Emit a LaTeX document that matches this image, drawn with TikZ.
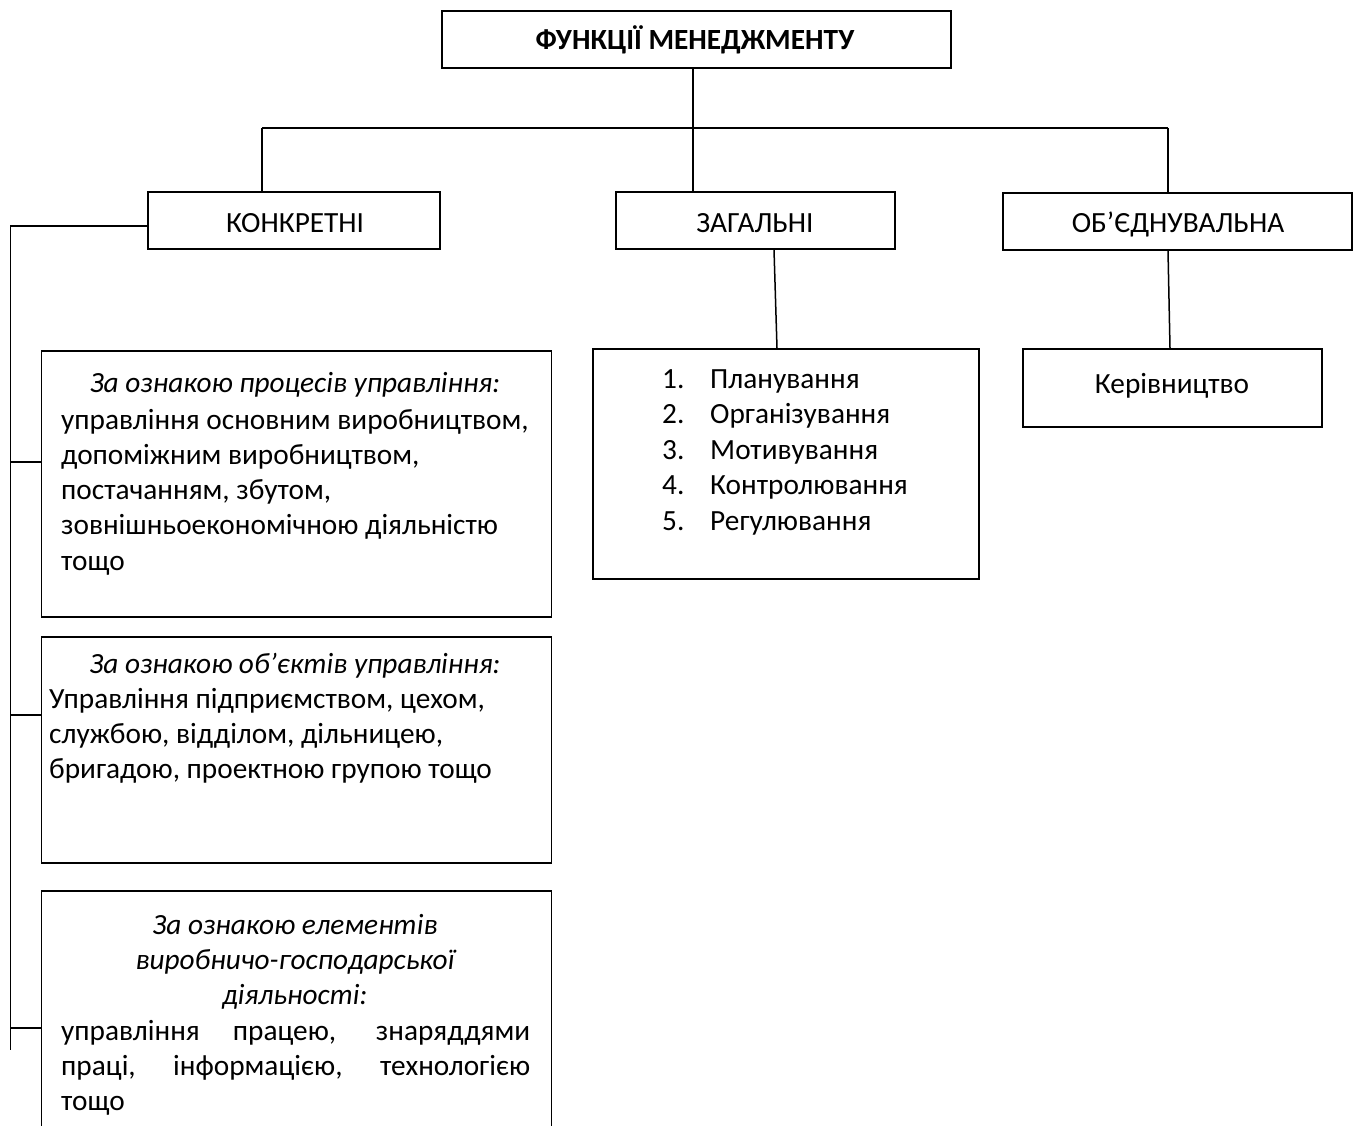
\documentclass[tikz,border=0pt]{standalone}
\usepackage{fontspec}
\setmainfont{Carlito}
\newcommand{\bodysize}{\fontsize{29.3}{35.3}\selectfont}
\begin{document}
\begin{tikzpicture}[x=1pt,y=-1pt,
  frame/.style={draw=black,line width=1.5pt,inner sep=0pt},
  link/.style={draw=black,line width=1.5pt},
  txt/.style={inner sep=0pt,anchor=base west,font=\bodysize},
  ctxt/.style={inner sep=0pt,anchor=base,font=\bodysize}]
\useasboundingbox (0,0) rectangle (1359,1126);

% boxes
\node[frame] (top)  at (696.5,39.5)  [minimum width=509pt,minimum height=57pt] {};
\node[frame] (konk) at (294,220.5)   [minimum width=292pt,minimum height=57pt] {};
\node[frame] (zag)  at (755.5,220.5) [minimum width=279pt,minimum height=57pt] {};
\node[frame] (obj)  at (1177.5,221.5)[minimum width=349pt,minimum height=57pt] {};
\node[frame] (b1)   at (296.5,484)   [minimum width=510pt,minimum height=266pt] {};
\node[frame] (b2)   at (296.5,750)   [minimum width=510pt,minimum height=226pt] {};
\node[frame] (b3)   at (296.5,1021)  [minimum width=510pt,minimum height=260pt] {};
\node[frame] (lst)  at (786,464)     [minimum width=386pt,minimum height=230pt] {};
\node[frame] (ker)  at (1172.5,388)  [minimum width=299pt,minimum height=78pt] {};

% headings
\node[ctxt,font=\bodysize\bfseries] at (695,50) {ФУНКЦІЇ МЕНЕДЖМЕНТУ};
\node[ctxt] at (295,232) {КОНКРЕТНІ};
\node[ctxt] at (755,232) {ЗАГАЛЬНІ};
\node[ctxt] at (1178,233) {ОБ’ЄДНУВАЛЬНА};

% first group
\node[ctxt] at (295,392) {\itshape За ознакою процесів управління:};
\node[txt] at (61,429) {управління основним виробництвом,};
\node[txt] at (61,464.3) {допоміжним виробництвом,};
\node[txt] at (61,499.6) {постачанням, збутом,};
\node[txt] at (61,534.9) {зовнішньоекономічною діяльністю};
\node[txt] at (61,570.2) {тощо};

% second group
\node[ctxt] at (295,673) {\itshape За ознакою об’єктів управління:};
\node[txt] at (49,708.3) {Управління підприємством, цехом,};
\node[txt] at (49,743.6) {службою, відділом, дільницею,};
\node[txt] at (49,778.9) {бригадою, проектною групою тощо};

% third group
\node[ctxt] at (295,934) {\itshape За ознакою елементів};
\node[ctxt] at (295,969.3) {\itshape виробничо-господарської};
\node[ctxt] at (295,1004.6) {\itshape діяльності:};
\node[txt] at (61,1040) {\makebox[469pt][s]{управління працею, знаряддями}};
\node[txt] at (61,1075.3) {\makebox[469pt][s]{праці, інформацією, технологією}};
\node[txt] at (61,1110.6) {тощо};

% general functions
\foreach \n/\w [count=\i] in {1/Планування,2/Організування,3/Мотивування,4/Контролювання,5/Регулювання}{
  \node[txt] at (662,388+35.6*\i-35.6) {\n.};
  \node[txt] at (710,388+35.6*\i-35.6) {\w};
}
\node[ctxt] at (1172,393) {Керівництво};

% connectors
\coordinate (busL) at (262,128);
\coordinate (busR) at (1168,128);
\coordinate (spineTop) at (10.5,226);
\coordinate (spineEnd) at (10.5,1050);
\draw[link] (busL) -- (busR);
\draw[link] (top.south -| 693,0) -- (zag.north -| 693,0);
\draw[link] (busL) -- (busL |- konk.north);
\draw[link] (busR) -- (busR |- obj.north);
\draw[link] (zag.south -| 774,0) -- (lst.north -| 777,0);
\draw[link] (obj.south -| 1168,0) -- (ker.north -| 1170,0);
\draw[link] (konk.west |- spineTop) -- (spineTop) -- (spineEnd);
\draw[link] (spineTop |- 0,462) -- (b1.west |- 0,462);
\draw[link] (spineTop |- 0,715) -- (b2.west |- 0,715);
\draw[link] (spineTop |- 0,1028) -- (b3.west |- 0,1028);
\end{tikzpicture}
\end{document}
